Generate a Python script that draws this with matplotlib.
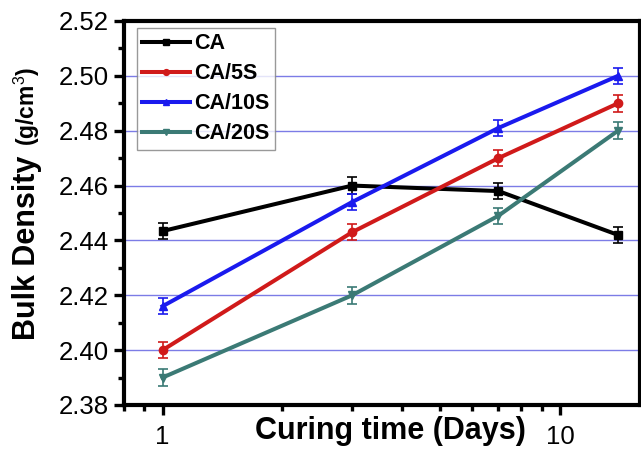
import matplotlib
matplotlib.use("Agg")
import matplotlib.pyplot as plt
import numpy as np
from matplotlib.ticker import FixedLocator, NullFormatter

plt.rcParams['font.family'] = ['Liberation Sans', 'DejaVu Sans']
plt.rcParams['mathtext.fontset'] = 'custom'
plt.rcParams['mathtext.rm'] = 'Liberation Sans'
plt.rcParams['mathtext.bf'] = 'Liberation Sans:bold'

# curing time (days)
days = [1, 3, 7, 14]
ca = [2.4434, 2.460, 2.458, 2.442]
ca_5s = [2.400, 2.443, 2.470, 2.490]
ca_10s = [2.416, 2.454, 2.481, 2.500]
ca_20s = [2.390, 2.420, 2.449, 2.480]
err = [0.003, 0.003, 0.003, 0.003]

series = [
    ("CA", ca, '#000000', 's'),
    ("CA/5S", ca_5s, '#d01a1a', 'o'),
    ("CA/10S", ca_10s, '#1a1aee', '^'),
    ("CA/20S", ca_20s, '#3b7a75', 'v'),
]

fig = plt.figure(figsize=(6.41, 4.49), dpi=100)
ax = fig.add_axes([124/641, 44/449, 516/641, 384/449])

handles = []
for name, vals, col, mk in series:
    eb = ax.errorbar(days, vals, yerr=err, color=col, marker=mk, markersize=6,
                     lw=2.9, elinewidth=1.2, capsize=3.5, capthick=1.2, label=name)
    handles.append(eb[0])  # line only, no error bars in the legend

ax.set_xscale('log')
ax.set_xlim(0.8, 15.9)
ax.set_ylim(2.38, 2.52)
yt = np.arange(2.38, 2.5201, 0.02)
ax.set_yticks(yt)
ax.set_yticklabels(["{:.2f}".format(v) for v in yt])
ax.yaxis.set_minor_locator(FixedLocator(np.arange(2.39, 2.52, 0.02)))
ax.set_xticks([1, 10])
ax.set_xticklabels(["1", "10"])
ax.xaxis.set_minor_locator(FixedLocator([0.8, 0.9, 2, 3, 4, 5, 6, 7, 8, 9]))
ax.xaxis.set_minor_formatter(NullFormatter())

ax.yaxis.grid(True, which='major', color='#7c7ce6', lw=1.0)
ax.set_axisbelow(True)

for sp in ax.spines.values():
    sp.set_linewidth(3.0)
ax.tick_params(which='major', direction='out', length=7.5, width=2.4, labelsize=18.5, pad=3.5)
ax.tick_params(which='minor', direction='out', length=4, width=2.4)
ax.tick_params(axis='x', which='major', pad=7)

ax.set_xlabel('Curing time (Days)', fontsize=22, fontweight='bold')
ax.xaxis.set_label_coords(0.517, -0.028)

fig.text(35/641, (449-340)/449, 'Bulk Density', rotation=90, rotation_mode='anchor',
         ha='left', va='baseline', fontsize=22, fontweight='bold')
fig.text(35/641, (449-146)/449, '(g/cm$^{3}$)', rotation=90, rotation_mode='anchor',
         ha='left', va='baseline', fontsize=16.5, fontweight='bold')

leg = ax.legend(handles, [s[0] for s in series], loc='upper left', bbox_to_anchor=(0.025, 0.982),
                prop={'weight': 'bold', 'size': 15.5},
                handlelength=2.2, handletextpad=0.2, labelspacing=0.42, borderpad=0.25,
                borderaxespad=0, fancybox=False, markerscale=0.7)
leg.get_frame().set_edgecolor('#808080')
leg.get_frame().set_linewidth(1.0)

fig.savefig("out.png", dpi=100)
